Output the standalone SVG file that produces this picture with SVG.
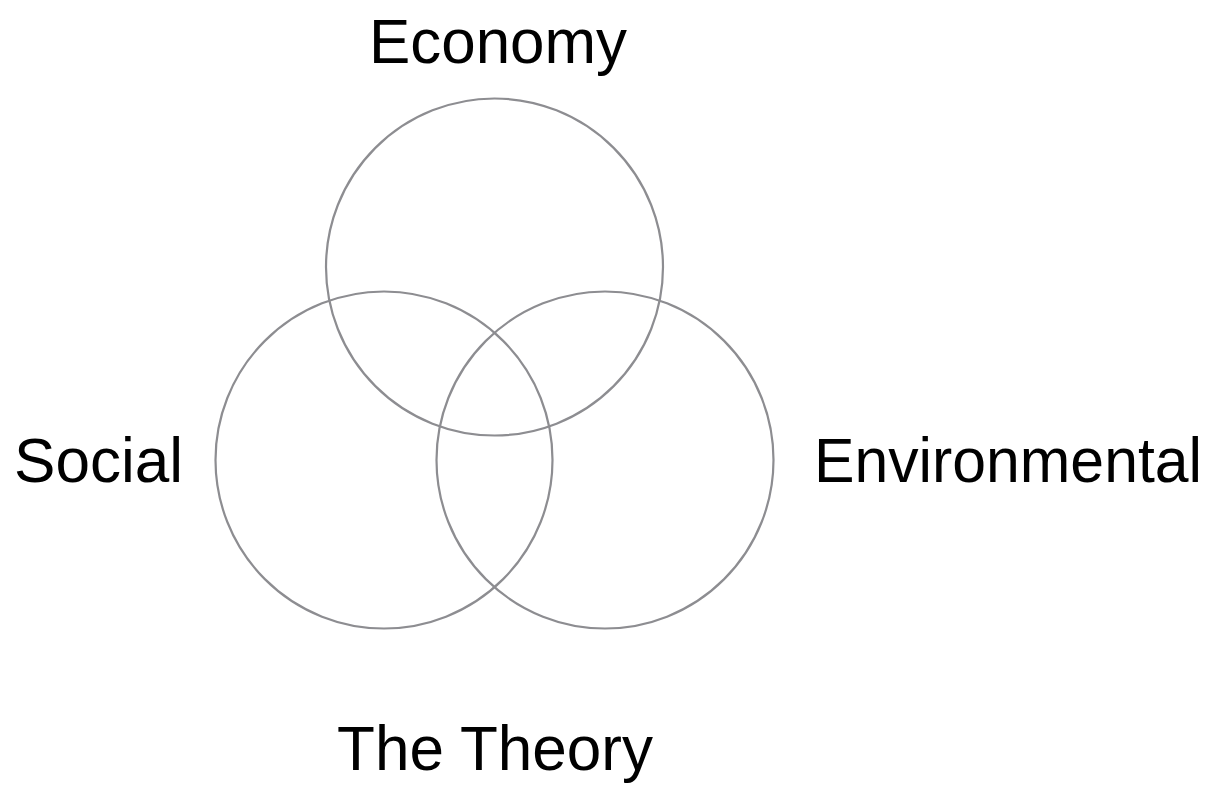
<svg xmlns="http://www.w3.org/2000/svg" width="1217" height="786" viewBox="0 0 1217 786">
<style>
.c{fill:none;stroke:#8d8d91;stroke-width:2.2}
.t{font-family:"Liberation Sans",Arial,sans-serif;font-size:63px;fill:#000}
</style>
<rect width="1217" height="786" fill="#fff"/>
<g id="economy"><circle class="c" cx="494.5" cy="267" r="168.5"/><text class="t" x="369" y="63" textLength="258" lengthAdjust="spacingAndGlyphs">Economy</text></g>
<g id="social"><circle class="c" cx="384" cy="460" r="168.5"/><text class="t" x="14" y="482" textLength="169" lengthAdjust="spacingAndGlyphs">Social</text></g>
<g id="environmental"><circle class="c" cx="605" cy="460" r="168.5"/><text class="t" x="814" y="482" textLength="388" lengthAdjust="spacingAndGlyphs">Environmental</text></g>
<g id="title"><text class="t" x="337" y="770" textLength="316" lengthAdjust="spacingAndGlyphs">The Theory</text></g>
<g id="connectors"></g>
</svg>
